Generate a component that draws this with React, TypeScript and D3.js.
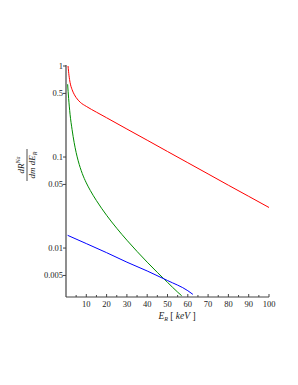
import * as d3 from 'd3';

// Series: [E_R keV, dR/dm dE]
const redE = [1, 1.5, 2, 3, 4, 5, 7, 10, 15, 20, 30, 40, 50, 60, 70, 80, 90, 100];
const redV = [1.0, 0.78, 0.66, 0.55, 0.49, 0.45, 0.4, 0.36, 0.311, 0.27, 0.203, 0.153, 0.115, 0.0866, 0.0652, 0.049, 0.037, 0.0279];

const greenE = [0.8, 1.3, 2, 3, 4, 5, 6, 8, 10, 12, 15, 20, 25, 30, 35, 40, 45, 50, 55, 57];
const greenV = [0.63, 0.44, 0.295, 0.2, 0.145, 0.112, 0.091, 0.066, 0.052, 0.0428, 0.0332, 0.0229, 0.0165, 0.0122, 0.00918, 0.007, 0.0054, 0.0042, 0.00328, 0.00299];

const blueE = [0.8, 10, 20, 30, 40, 50, 60, 62.5];
const blueV = [0.0138, 0.0112, 0.0089, 0.007, 0.0056, 0.0044, 0.0034, 0.0031];

const yTicks = [1, 0.5, 0.1, 0.05, 0.01, 0.005];
const xLabels = [10, 20, 30, 40, 50, 60, 70, 80, 90, 100];
const xMinor = [5, 15, 25, 35, 45, 55, 65, 75, 85, 95];

const width = 298;
const height = 385;
const left = 66;
const right = 269;
const top = 66;
const bottom = 297;

const x = d3.scaleLinear([0, 100], [left, right]);
const y = d3.scaleLog([0.0029, 1], [bottom, top]);

const line = d3
  .line<[number, number]>()
  .curve(d3.curveMonotoneX)
  .x(d => x(d[0]))
  .y(d => y(d[1]));

const zip = (a: number[], b: number[]) => a.map((v, i) => [v, b[i]] as [number, number]);

const series = [
  { color: '#ff0000', pts: zip(redE, redV) },
  { color: '#008c00', pts: zip(greenE, greenV) },
  { color: '#0000ff', pts: zip(blueE, blueV) },
];

const axisColor = '#444';
const font = '"Liberation Serif", "DejaVu Serif", serif';

export default function App() {
  return (
    <svg
      width={width}
      height={height}
      style={{ position: 'absolute', left: 0, top: 0, background: '#fff' }}
      fontFamily={font}
    >
      <defs>
        <clipPath id="plot">
          <rect x={left} y={top - 2} width={right - left + 2} height={bottom - top + 2} />
        </clipPath>
      </defs>

      {series.map((s, i) => (
        <path key={i} d={line(s.pts) ?? ''} fill="none" stroke={s.color} strokeWidth={1} clipPath="url(#plot)" />
      ))}

      {/* axes */}
      <line x1={left} x2={left} y1={top - 1} y2={bottom} stroke={axisColor} strokeWidth={1.2} />
      <line x1={left} x2={right} y1={bottom} y2={bottom} stroke={axisColor} strokeWidth={1.2} />

      {yTicks.map(t => (
        <g key={t} transform={`translate(0,${y(t)})`}>
          <line x1={left - 3} x2={left} stroke={axisColor} />
          <text x={left - 3} dy="0.33em" textAnchor="end" fontSize={8.5} fill="#222">
            {t}
          </text>
        </g>
      ))}

      {xLabels.map(t => (
        <g key={t} transform={`translate(${x(t)},0)`}>
          <line y1={bottom - 3} y2={bottom} stroke={axisColor} />
          <text y={bottom + 10} textAnchor="middle" fontSize={8.5} fill="#222">
            {t}
          </text>
        </g>
      ))}
      {xMinor.map(t => (
        <line key={t} x1={x(t)} x2={x(t)} y1={bottom - 2} y2={bottom} stroke={axisColor} />
      ))}

      {/* x label */}
      <text x={177} y={319} textAnchor="middle" fontSize={9.5} fontStyle="italic" fill="#222">
        E
        <tspan fontSize={6} dy={2}>R</tspan>
        <tspan dy={-2} fontStyle="normal"> [ </tspan>
        <tspan>keV</tspan>
        <tspan fontStyle="normal"> ]</tspan>
      </text>

      {/* y label */}
      <g transform="translate(27,165) rotate(-90)" fontStyle="italic" fill="#222" fontSize={9}>
        <text x={0} y={-3} textAnchor="middle">
          dR
          <tspan fontSize={6} dy={-4}>Na</tspan>
        </text>
        <line x1={-16} x2={16} y1={0} y2={0} stroke="#222" strokeWidth={0.8} />
        <text x={0} y={8} textAnchor="middle">
          dm dE
          <tspan fontSize={6} dy={2}>R</tspan>
        </text>
      </g>
    </svg>
  );
}
